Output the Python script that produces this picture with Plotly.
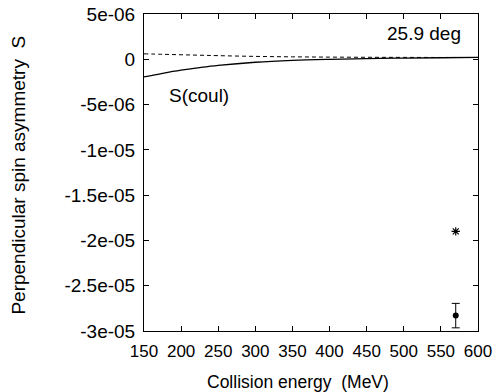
import plotly.graph_objects as go

# Energy grid (MeV) for the model curves
energy = [150, 175, 200, 225, 250, 300, 350, 400, 450, 500, 550, 600]
# Coulomb-only spin asymmetry S(coul)
s_coul = [-1.95e-6, -1.55e-6, -1.2e-6, -0.92e-6, -0.68e-6, -0.33e-6,
          -0.12e-6, 0.0, 0.08e-6, 0.13e-6, 0.17e-6, 0.2e-6]
# Full asymmetry (dashed)
s_full = [0.6e-6, 0.55e-6, 0.5e-6, 0.45e-6, 0.4e-6, 0.32e-6,
          0.27e-6, 0.24e-6, 0.22e-6, 0.21e-6, 0.2e-6, 0.2e-6]

# Measured point and prediction at 570 MeV
meas_e = [570]
meas_s = [-2.83e-5]
meas_err = [1.35e-6]
pred_e = [570]
pred_s = [-1.9e-5]

y_ticks = [5e-6, 0, -5e-6, -1e-5, -1.5e-5, -2e-5, -2.5e-5, -3e-5]
y_tick_text = ["5e-06", "0", "-5e-06", "-1e-05", "-1.5e-05", "-2e-05", "-2.5e-05", "-3e-05"]
x_ticks = [150, 200, 250, 300, 350, 400, 450, 500, 550, 600]

FONT = "Liberation Sans, Arial, sans-serif"

fig = go.Figure()
fig.add_trace(go.Scatter(x=energy, y=s_full, mode="lines", line_shape="spline",
                         line=dict(color="black", width=1, dash="4px,3px")))
fig.add_trace(go.Scatter(x=energy, y=s_coul, mode="lines", line_shape="spline",
                         line=dict(color="black", width=1.3)))
fig.add_trace(go.Scatter(x=pred_e, y=pred_s, mode="markers",
                         marker=dict(symbol="asterisk-open", size=7, color="black",
                                     line=dict(color="black", width=1.2))))
fig.add_trace(go.Scatter(x=meas_e, y=meas_s, mode="markers",
                         marker=dict(symbol="circle", size=6, color="black"),
                         error_y=dict(type="data", array=meas_err, color="black",
                                      thickness=1, width=4)))

# In-plot labels
fig.add_annotation(x=580, y=2.9e-6, text="25.9 deg", showarrow=False,
                   xanchor="right", yanchor="middle", font=dict(size=19, color="black", family=FONT))
fig.add_annotation(x=181, y=-4.05e-6, text="S(coul)", showarrow=False,
                   xanchor="left", yanchor="middle", font=dict(size=19, color="black", family=FONT))

# Axis titles
fig.add_annotation(xref="paper", yref="paper", x=0.461, y=-0.162, text="Collision energy\u00a0\u00a0(MeV)",
                   showarrow=False, xanchor="center", yanchor="middle",
                   font=dict(size=17.5, color="black", family=FONT))
fig.add_annotation(xref="paper", yref="paper", x=-0.377, y=0.4905,
                   text="Perpendicular spin asymmetry\u00a0\u00a0S", textangle=-90,
                   showarrow=False, xanchor="center", yanchor="middle",
                   font=dict(size=19, color="black", family=FONT))

axis_common = dict(showline=True, linecolor="black", linewidth=1, mirror="ticks",
                   ticks="inside", ticklen=5, tickcolor="black", showgrid=False,
                   zeroline=False, automargin=False)

fig.update_xaxes(range=[150, 600], tickvals=x_ticks, ticktext=[str(v) for v in x_ticks],
                 tickfont=dict(size=17, color="black", family=FONT), ticklabelstandoff=5,
                 **axis_common)
fig.update_yaxes(range=[-3e-5, 5e-6], tickvals=y_ticks, ticktext=y_tick_text,
                 tickfont=dict(size=19, color="black", family=FONT), ticklabelstandoff=4,
                 **axis_common)

fig.update_layout(width=500, height=392, showlegend=False,
                  margin=dict(l=144, r=22, t=14, b=61),
                  paper_bgcolor="white", plot_bgcolor="white",
                  font=dict(family=FONT, color="black"))

fig.write_html("out.html")
